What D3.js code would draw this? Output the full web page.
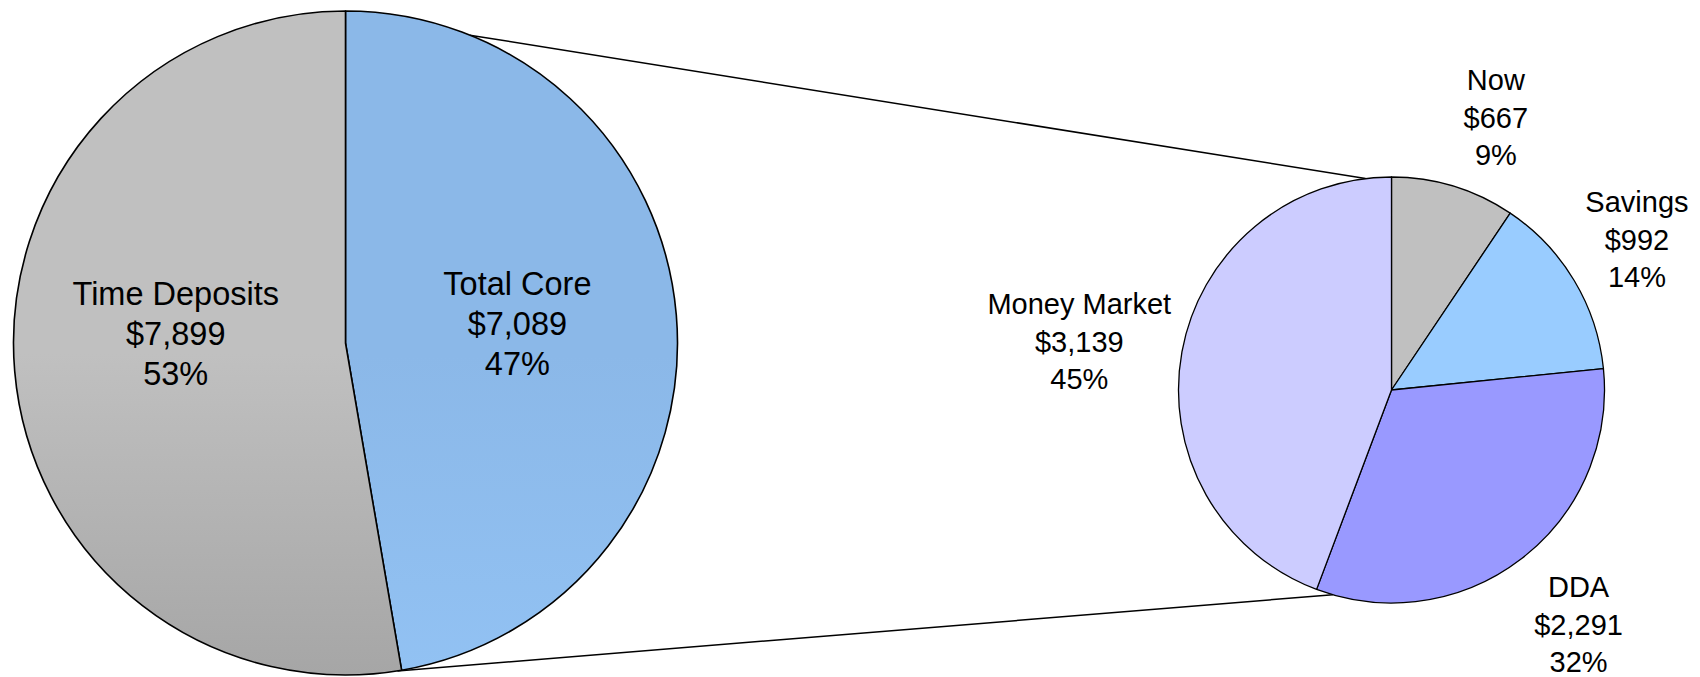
<!DOCTYPE html>
<html>
<head>
<meta charset="utf-8">
<script src="https://cdn.jsdelivr.net/npm/d3@7"></script>
<style>
  html, body { margin: 0; padding: 0; background: #ffffff; }
  svg { display: block; }
  text { font-family: "Liberation Sans", Arial, sans-serif; fill: #000; }
</style>
</head>
<body>
<svg id="chart" width="1700" height="677"></svg>
<script>
// ---------- data ----------
const mainCategories = ["Total Core", "Time Deposits"];
const mainValues = [7089, 7899];
const mainPercentLabels = ["47%", "53%"];

const coreCategories = ["Now", "Savings", "DDA", "Money Market"];
const coreValues = [667, 992, 2291, 3139];
const corePercentLabels = ["9%", "14%", "32%", "45%"];

// ---------- layout ----------
const W = 1700, H = 677;
const left = { cx: 345.5, cy: 343, r: 332 };
const right = { cx: 1391.5, cy: 390, r: 213 };
const deg = Math.PI / 180;

// label placement: [angle tweak from slice mid-angle (deg), radius]
const mainLabelPolar = [[-1.6, 173], [8.0, 170]];
const coreLabelPolar = [[4.0, 292], [-0.6, 288], [-1.0, 300], [-1.4, 316]];

// connector anchor angles (deg, clockwise from 12 o'clock)
const connTop = { left: 22, right: -7 };
const connBottom = { left: 171, right: 196 };

const svg = d3.select("#chart");
const defs = svg.append("defs");

const gGray = defs.append("linearGradient").attr("id", "gradGray")
  .attr("gradientUnits", "userSpaceOnUse")
  .attr("x1", 0).attr("x2", 0)
  .attr("y1", left.cy - left.r).attr("y2", left.cy + left.r);
gGray.append("stop").attr("offset", "0%").attr("stop-color", "#c0c0c0");
gGray.append("stop").attr("offset", "100%").attr("stop-color", "#8a8a8a");

const gBlue = defs.append("linearGradient").attr("id", "gradBlue")
  .attr("gradientUnits", "userSpaceOnUse")
  .attr("x1", 0).attr("x2", 0)
  .attr("y1", left.cy - left.r).attr("y2", left.cy + left.r);
gBlue.append("stop").attr("offset", "0%").attr("stop-color", "#8bb8e8");
gBlue.append("stop").attr("offset", "100%").attr("stop-color", "#99ccff");

const mainFills = ["url(#gradBlue)", "url(#gradGray)"];
const coreFills = ["#c0c0c0", "#99ccff", "#9999ff", "#ccccff"];

const fmtMoney = d3.format("$,");

function polar(c, angleDeg, r) {
  const a = angleDeg * deg;
  return [c.cx + r * Math.sin(a), c.cy - r * Math.cos(a)];
}

// ---------- connector lines ----------
const line = d3.line();
svg.append("path")
  .attr("d", line([polar(left, connTop.left, left.r), polar(right, connTop.right, right.r)]))
  .attr("fill", "none").attr("stroke", "#000").attr("stroke-width", 1.5);
svg.append("path")
  .attr("d", line([polar(left, connBottom.left, left.r), polar(right, connBottom.right, right.r)]))
  .attr("fill", "none").attr("stroke", "#000").attr("stroke-width", 1.5);

// ---------- pies ----------
const pie = d3.pie().sort(null).value(d => d.value).startAngle(0).endAngle(2 * Math.PI);

function drawPie(c, cats, vals, pcts, fills, polarTweaks, fontSize, lineH, strokeW) {
  const data = cats.map((name, i) => ({ name, value: vals[i], pct: pcts[i], fill: fills[i], tw: polarTweaks[i] }));
  const arcs = pie(data);
  const arc = d3.arc().innerRadius(0).outerRadius(c.r);
  const g = svg.append("g").attr("transform", `translate(${c.cx},${c.cy})`);
  g.selectAll("path.slice").data(arcs).join("path")
    .attr("class", "slice")
    .attr("d", arc)
    .attr("fill", d => d.data.fill)
    .attr("stroke", "#000")
    .attr("stroke-width", strokeW)
    .attr("stroke-linejoin", "round");

  const capH = fontSize * 0.716;
  arcs.forEach(d => {
    const mid = (d.startAngle + d.endAngle) / 2 / deg + d.data.tw[0];
    const [x, y] = polar(c, mid, d.data.tw[1]);
    const lines = [d.data.name, fmtMoney(d.data.value), d.data.pct];
    const t = svg.append("text")
      .attr("text-anchor", "middle")
      .attr("font-size", fontSize);
    lines.forEach((s, i) => {
      t.append("tspan")
        .attr("x", x)
        .attr("y", y + (i - 1) * lineH + capH / 2)
        .text(s);
    });
  });
}

drawPie(left, mainCategories, mainValues, mainPercentLabels, mainFills, mainLabelPolar, 32.5, 40, 1.6);
drawPie(right, coreCategories, coreValues, corePercentLabels, coreFills, coreLabelPolar, 29, 37.5, 1.3);
</script>
</body>
</html>
